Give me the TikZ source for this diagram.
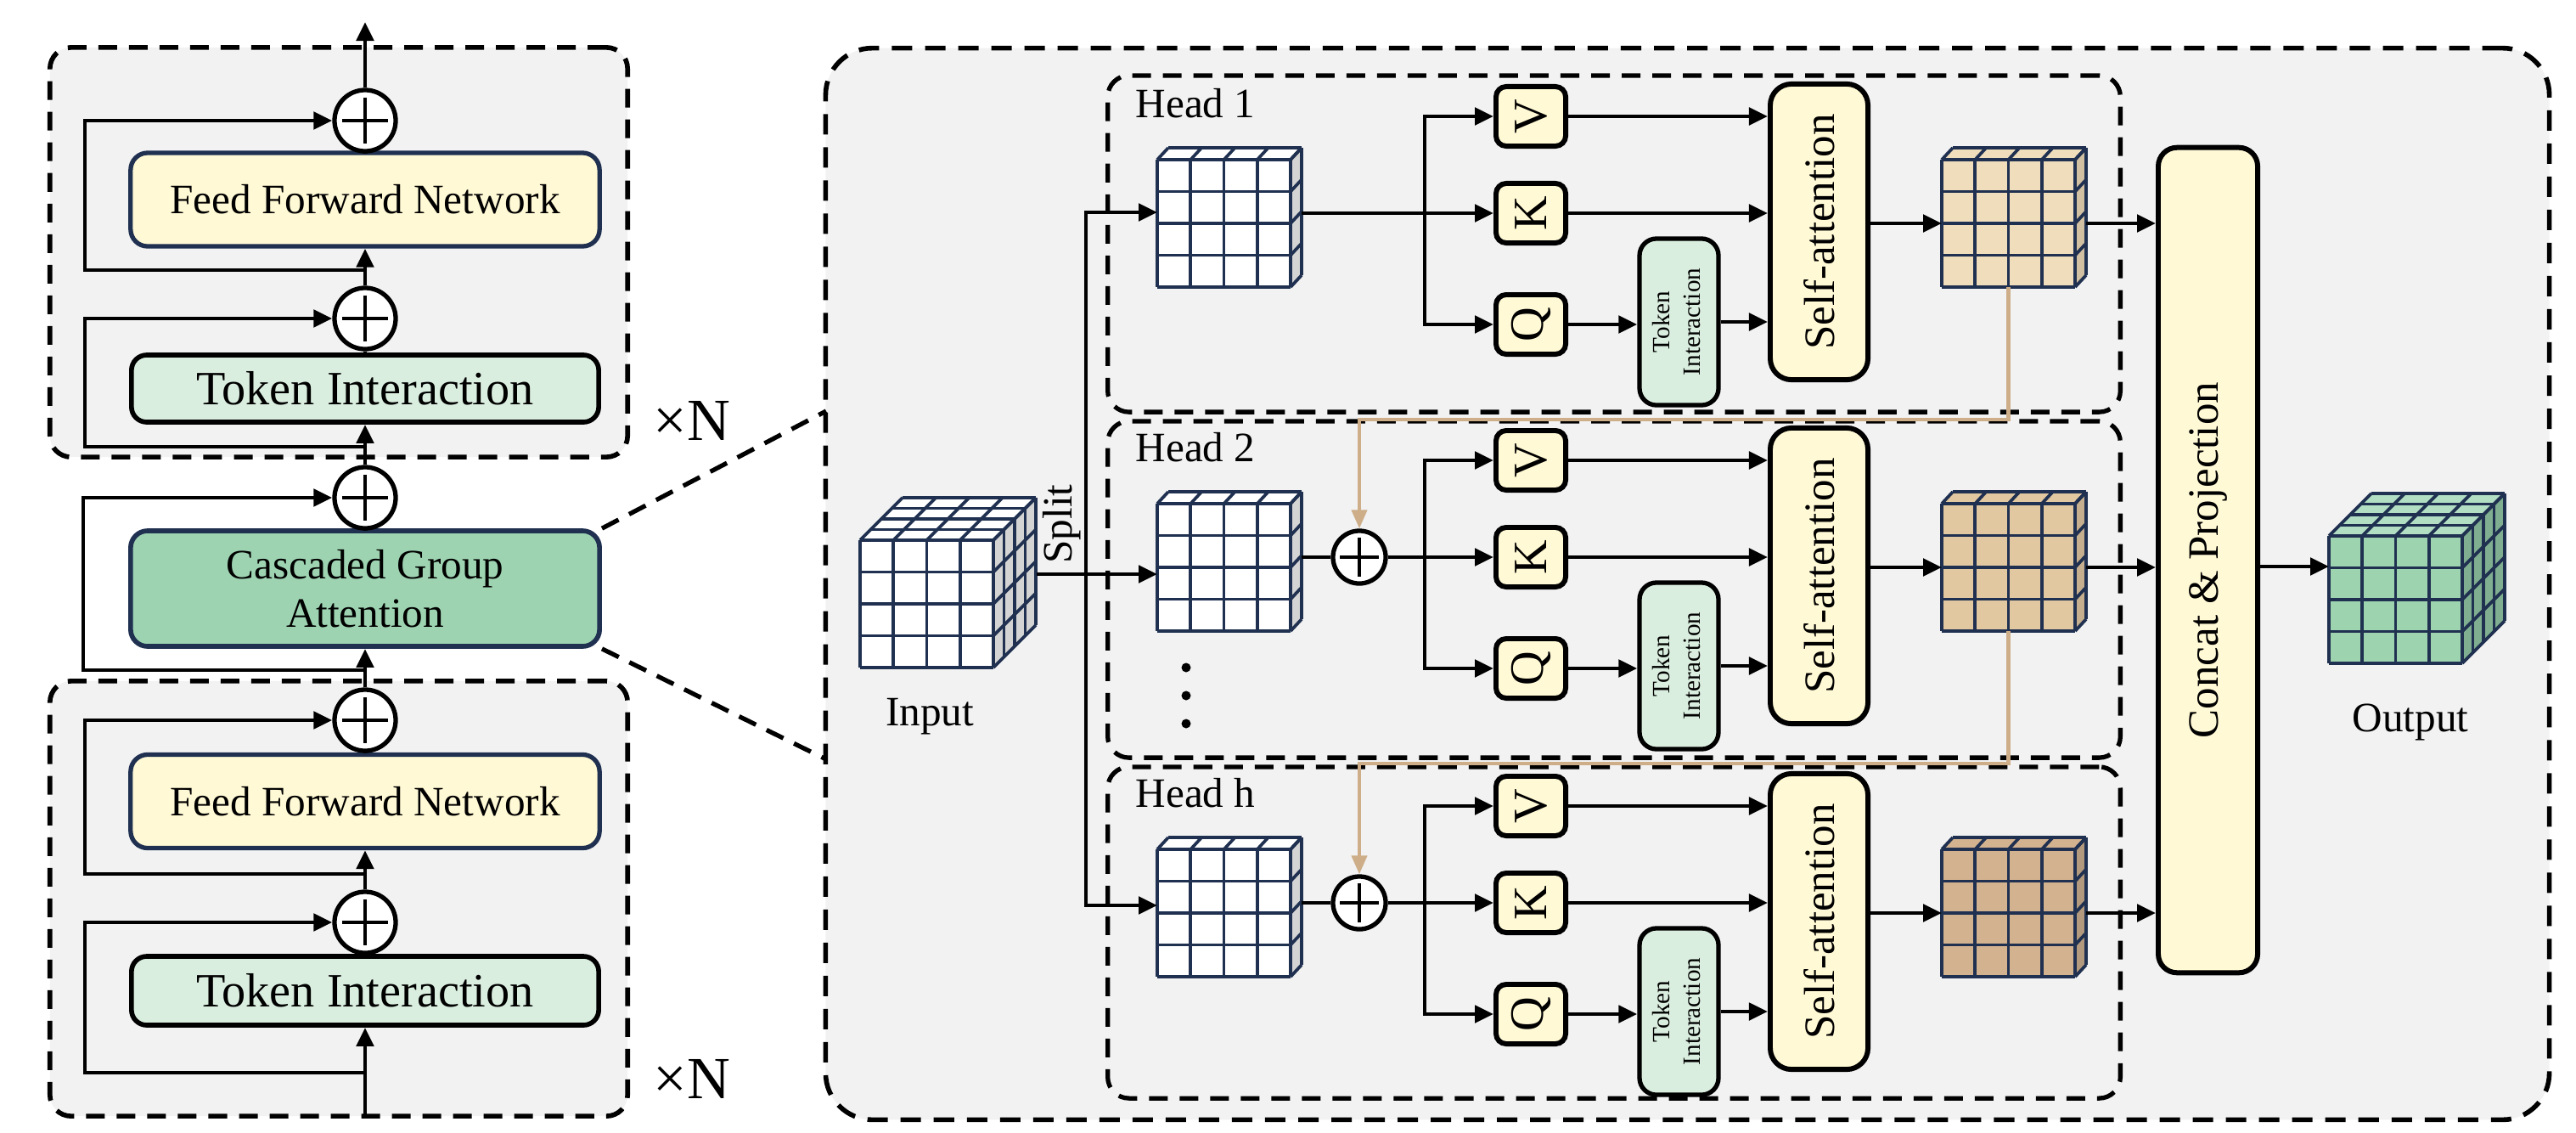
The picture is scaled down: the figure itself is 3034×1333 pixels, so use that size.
\documentclass[tikz,border=0pt]{standalone}
\usepackage{fontspec}
\setmainfont{Liberation Serif}
\usepackage{graphicx}
\usetikzlibrary{arrows.meta}
\definecolor{bggray}{HTML}{F2F2F2}
\definecolor{ffnfill}{HTML}{FFF9D5}
\definecolor{tifill}{HTML}{DAEEDF}
\definecolor{cgafill}{HTML}{9DD3B1}
\definecolor{navy}{HTML}{1F3050}
\definecolor{tancol}{HTML}{CDAE89}
\definecolor{sidegray}{HTML}{D4D4D4}
\definecolor{outa}{HTML}{F0DDBC}\definecolor{outas}{HTML}{D2C0A2}
\definecolor{outb}{HTML}{E2C8A0}\definecolor{outbs}{HTML}{C6AF8E}
\definecolor{outc}{HTML}{D3B28F}\definecolor{outcs}{HTML}{B39A7E}
\definecolor{cubef}{HTML}{9ED3AF}\definecolor{cubes}{HTML}{7FAE90}\definecolor{cubet}{HTML}{B2DEC4}
% #1 name, #2 x0, #3 y0, #4 front, #5 side, #6 top, #7 dx, #8 dy, #9 layers
\newcommand\mytensor[9]{%
  \fill[fill=#6] (#2,{#3}) -- ++(157,0) -- ++(#7,-#8) -- ++(-157,0) -- cycle;
  \fill[fill=#5] ({#2+157},{#3}) -- ++(#7,-#8) -- ++(0,150) -- ++(-#7,#8) -- cycle;
  \fill[fill=#4] (#2,{#3}) rectangle ++(157,150);
  \foreach \i in {0,...,4}{
    \draw[tline] ({#2+\i*39.25},{#3}) -- ++(0,150);
    \draw[tline] (#2,{#3+\i*37.5}) -- ++(157,0);
    \draw[tline] ({#2+\i*39.25},{#3}) -- ++(#7,-#8);
    \draw[tline] ({#2+157},{#3+\i*37.5}) -- ++(#7,-#8);
  }
  \foreach \j in {1,...,#9}{
    \draw[tline] ({#2+\j*#7/#9},{#3-\j*#8/#9}) -- ++(157,0);
    \draw[tline] ({#2+157+\j*#7/#9},{#3-\j*#8/#9}) -- ++(0,150);
  }
  \coordinate (#1-nw) at (#2,{#3});
  \coordinate (#1-w) at (#2,{#3+75});
  \coordinate (#1-e) at ({#2+157+#7},{#3+75});
  \coordinate (#1-s) at ({#2+78.5},{#3+150});
}
\begin{document}
\begin{tikzpicture}[x=0.01cm,y=-0.01cm,
  arr/.style={line width=1.4pt,-{Triangle[length=0.22cm,width=0.2cm]}},
  ln/.style={line width=1.4pt},
  tanarr/.style={draw=tancol,line width=1.2pt,-{Triangle[length=0.22cm,width=0.18cm,fill=tancol]}},
  tline/.style={draw=navy,line width=1.05pt,line join=round},
  f14/.style={font=\fontsize{14}{16.5}\selectfont},
  bigbox/.style={draw,fill=bggray,line width=1.6pt,dash pattern=on 0.24cm off 0.15cm,rounded corners=0.55cm,minimum width=20.29cm,minimum height=12.61cm,inner sep=0pt},
  lbox/.style={draw,fill=bggray,line width=1.6pt,dash pattern=on 0.22cm off 0.14cm,rounded corners=0.25cm,minimum width=6.8cm,inner sep=0pt},
  hbox/.style={draw,line width=1.5pt,dash pattern=on 0.22cm off 0.14cm,rounded corners=0.25cm,minimum width=11.92cm,inner sep=0pt},
  zoomdash/.style={line width=1.5pt,dash pattern=on 0.22cm off 0.14cm},
  ffnb/.style={draw=navy,fill=ffnfill,line width=1.5pt,rounded corners=0.2cm,minimum width=5.52cm,minimum height=1.1cm,inner sep=0pt,f14},
  tib/.style={draw=black,fill=tifill,line width=1.6pt,rounded corners=0.18cm,minimum width=5.5cm,inner sep=0pt,font=\fontsize{16}{19}\selectfont},
  cgab/.style={draw=navy,fill=cgafill,line width=1.6pt,rounded corners=0.2cm,minimum width=5.52cm,minimum height=1.36cm,inner sep=0pt,align=center,font=\fontsize{14}{16.2}\selectfont},
  crs/.style={path picture={\draw[line width=1.3pt] ([yshift=-#1]path picture bounding box.north) -- ([yshift=#1]path picture bounding box.south) ([xshift=#1]path picture bounding box.west) -- ([xshift=-#1]path picture bounding box.east);}},
  lplus/.style={circle,draw,fill=white,line width=1.5pt,minimum size=0.72cm,inner sep=0pt,crs=0.09cm},
  hplus/.style={circle,draw,fill=white,line width=1.5pt,minimum size=0.62cm,inner sep=0pt,crs=0.08cm},
  qkv/.style={draw,fill=ffnfill,line width=1.7pt,rounded corners=0.12cm,minimum width=0.82cm,minimum height=0.70cm,inner sep=0pt,font=\fontsize{16}{19}\selectfont},
  tis/.style={draw,fill=tifill,line width=1.5pt,rounded corners=0.2cm,minimum width=0.93cm,minimum height=1.96cm,inner sep=0pt,font=\fontsize{8.3}{10}\selectfont},
  sab/.style={draw,fill=ffnfill,line width=1.7pt,rounded corners=0.25cm,minimum width=1.15cm,minimum height=3.48cm,inner sep=0pt,font=\fontsize{14.5}{17}\selectfont},
  xn/.style={font=\fontsize{20}{24}\selectfont,inner sep=0pt},
  hlab/.style={f14,inner sep=0pt,anchor=west}
]
\useasboundingbox (0,0) rectangle (3034,1333);

% ---------- backgrounds ----------
\node[bigbox] (big) at (1987.5,687.5) {};
\node[lbox,minimum height=4.82cm] (lb1) at (399,297) {};
\node[lbox,minimum height=5.12cm] (lb2) at (399,1058) {};

% ---------- left column ----------
\node[ffnb] (ffn1) at (430,235) {Feed Forward Network};
\node[tib,minimum height=0.79cm] (ti1) at (430,457.5) {Token Interaction};
\node[cgab] (cga) at (430,693) {Cascaded Group\\Attention};
\node[ffnb] (ffn2) at (430,943.5) {Feed Forward Network};
\node[tib,minimum height=0.81cm] (ti2) at (430,1166.5) {Token Interaction};
\node[lplus] (p1) at (430,142) {};
\node[lplus] (p2) at (430,375) {};
\node[lplus] (p3) at (430,586) {};
\node[lplus] (p4) at (430,848) {};
\node[lplus] (p5) at (430,1086) {};
\coordinate (outtop) at (430,26);
\coordinate (inbot) at (430,1314);
\coordinate (sk1) at (430,318);
\coordinate (sk2) at (430,526);
\coordinate (sk3) at (430,789);
\coordinate (sk4) at (430,1029);
\coordinate (sk5) at (430,1263);

\draw[arr] (p1.north) -- (outtop);
\draw[ln] (ffn1.north) -- (p1.south);
\draw[arr] (p2.north) -- (ffn1.south);
\draw[ln] (ti1.north) -- (p2.south);
\draw[arr] (p3.north) -- (ti1.south);
\draw[ln] (cga.north) -- (p3.south);
\draw[arr] (p4.north) -- (cga.south);
\draw[ln] (ffn2.north) -- (p4.south);
\draw[arr] (p5.north) -- (ffn2.south);
\draw[ln] (ti2.north) -- (p5.south);
\draw[arr] (inbot) -- (ti2.south);
\draw[arr] (sk1) -- ++(-330,0) |- (p1.west);
\draw[arr] (sk2) -- ++(-330,0) |- (p2.west);
\draw[arr] (sk3) -- ++(-332,0) |- (p3.west);
\draw[arr] (sk4) -- ++(-330,0) |- (p4.west);
\draw[arr] (sk5) -- ++(-330,0) |- (p5.west);

\node[xn] (xn1) at (815,495) {×N};
\node[xn] (xn2) at (815,1270) {×N};

\coordinate (zt) at (973,484);
\coordinate (zb) at (973,894);
\draw[zoomdash] (cga.north east) -- (zt);
\draw[zoomdash] (cga.south east) -- (zb);

% ---------- head boxes ----------
\node[hbox,minimum height=3.96cm] (hb1) at (1901,287) {};
\node[hbox,minimum height=3.96cm] (hb2) at (1901,694) {};
\node[hbox,minimum height=3.90cm] (hbh) at (1901,1098) {};

% ---------- concat ----------
\node[sab,minimum width=1.17cm,minimum height=9.71cm,rounded corners=0.22cm] (concat) at (2600.5,659.5) {\rotatebox{90}{Concat \& Projection}};

% ---------- heads ----------
\foreach \k/\o/\lbl/\fr/\sd in {1/0/Head 1/outa/outas, 2/405/Head 2/outb/outbs, h/812/Head h/outc/outcs}{
  \node[hlab] (hl\k) at (1337,{122+\o}) {\lbl};
  \mytensor{in\k}{1363}{188+\o}{white}{sidegray}{white}{13}{14}{1}
  \mytensor{out\k}{2287}{188+\o}{\fr}{\sd}{\fr}{13}{14}{1}
  \node[qkv] (v\k) at (1803,{137+\o}) {\rotatebox{90}{V}};
  \node[qkv] (k\k) at (1803,{251+\o}) {\rotatebox{90}{K}};
  \node[qkv] (q\k) at (1803,{382+\o}) {\rotatebox{90}{Q}};
  \node[tis] (ti\k) at (1977.5,{379+\o}) {\rotatebox{90}{\begin{tabular}{@{}c@{}}Token\\Interaction\end{tabular}}};
  \node[sab] (sa\k) at (2142.5,{273+\o}) {\rotatebox{90}{Self-attention}};
  \coordinate (br\k) at (1678,{251+\o});
  \draw[arr] (br\k) |- (v\k.west);
  \draw[arr] (br\k) |- (q\k.west);
  \draw[arr] (br\k) -- (k\k.west);
  \draw[arr] (v\k.east) -- (sa\k.west |- v\k.east);
  \draw[arr] (k\k.east) -- (sa\k.west |- k\k.east);
  \draw[arr] (q\k.east) -- (ti\k.west |- q\k.east);
  \draw[arr] (ti\k.east) -- (sa\k.west |- ti\k.east);
  \draw[arr] (sa\k.east |- out\k-w) -- (out\k-w);
  \draw[arr] (out\k-e) -- (concat.west |- out\k-e);
}

% head-specific connections
\node[hplus] (pp2) at (1601,656) {};
\node[hplus] (pph) at (1601,1063) {};
\draw[ln] (in1-e |- k1) -- (br1);
\draw[ln] (in2-e |- pp2) -- (pp2.west);
\draw[ln] (pp2.east) -- (br2);
\draw[ln] (inh-e |- pph) -- (pph.west);
\draw[ln] (pph.east) -- (brh);
\draw[tanarr] (out1-s) -- ++(0,156) -| (pp2.north);
\draw[tanarr] (out2-s) -- ++(0,156) -| (pph.north);

% dots
\fill (1397,786) circle (0.055cm);
\fill (1397,819) circle (0.055cm);
\fill (1397,852) circle (0.055cm);

% ---------- input / output cubes ----------
\mytensor{incube}{1013}{636}{white}{sidegray}{white}{50}{50}{4}
\mytensor{outcube}{2743}{631}{cubef}{cubes}{cubet}{50}{50}{4}
\node[f14,inner sep=0pt] (inlab) at (1095,844) {Input};
\node[f14,inner sep=0pt] (outlab) at (2839,850) {Output};
\node[f14,inner sep=0pt,rotate=90] (splitlab) at (1251,617) {Split};

\coordinate (inarr) at (1221,676);
\coordinate (sp) at (1279,676);
\coordinate (s1) at (1279,250);
\coordinate (sh) at (1279,1066);
\draw[arr] (inarr) -- (in2-nw |- inarr);
\draw[arr] (sp) |- (in1-nw |- s1);
\draw[arr] (sp) |- (inh-nw |- sh);
\coordinate (outin) at (2743,667);
\draw[arr] (concat.east |- outin) -- (outin);
\end{tikzpicture}
\end{document}
